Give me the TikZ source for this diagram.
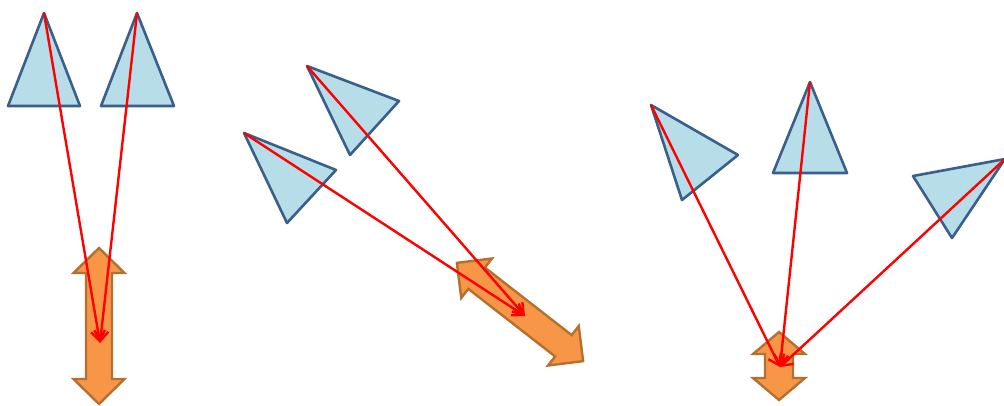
\documentclass[tikz,border=0pt]{standalone}
\usepackage{tikz}
\usetikzlibrary{arrows.meta}
\definecolor{prismfill}{HTML}{B7DDE8}
\definecolor{prismline}{HTML}{3A5F8B}
\definecolor{shaftfill}{HTML}{F79646}
\definecolor{shaftline}{HTML}{B5702F}

% double-headed block arrow: centre, angle, half length, head length, head half width, shaft half width
\newcommand{\twoway}[6]{%
  \begin{scope}[shift={#1}, rotate=#2]
    \draw[shaft] (-#3,0) -- (-#3+#4,#5) -- (-#3+#4,#6) -- (#3-#4,#6) -- (#3-#4,#5) -- (#3,0)
      -- (#3-#4,-#5) -- (#3-#4,-#6) -- (-#3+#4,-#6) -- (-#3+#4,-#5) -- cycle;
  \end{scope}}

\begin{document}
\begin{tikzpicture}[x=1pt, y=-1pt,
  prism/.style={fill=prismfill, draw=prismline, line width=2.6pt, line join=round},
  shaft/.style={fill=shaftfill, draw=shaftline, line width=2.4pt, line join=miter},
  ray/.style={red, line width=2.4pt, -{Straight Barb[length=10pt, width=14pt, line width=2.4pt]}}]
  \useasboundingbox (0,0) rectangle (1004,405);
  \clip (0,0) rectangle (1004,405);

  % Left group
  \coordinate (apexA) at (44,13);
  \coordinate (apexB) at (137,13);
  \draw[prism] (apexA) -- (80,106) -- (8,106) -- cycle;
  \draw[prism] (apexB) -- (174,106) -- (101,106) -- cycle;
  \twoway{(99,326)}{90}{78}{25}{25.5}{13}
  \coordinate (hitL) at (100,343);
  \draw[ray] (apexA) -- (hitL);
  \draw[ray] (apexB) -- (hitL);

  % Middle group
  \coordinate (apexC) at (307,66);
  \coordinate (apexD) at (244,133);
  \draw[prism] (apexC) -- (399,101) -- (350,155) -- cycle;
  \draw[prism] (apexD) -- (336,170) -- (287,223) -- cycle;
  \twoway{(520,312)}{-37.9}{80}{25}{25}{13.5}
  \coordinate (hitM) at (525,316);
  \draw[ray] (apexC) -- (hitM);
  \draw[ray] (apexD) -- (hitM);

  % Right group
  \coordinate (apexE) at (651,105);
  \coordinate (apexF) at (810,82);
  \coordinate (apexG) at (1005,159);
  \draw[prism] (apexE) -- (738,155) -- (682,200) -- cycle;
  \draw[prism] (apexF) -- (847,173) -- (773,173) -- cycle;
  \draw[prism] (apexG) -- (913,176) -- (952,238) -- cycle;
  \twoway{(779,366)}{90}{34}{22}{26}{14}
  \coordinate (hitR) at (780,367);
  \draw[ray] (apexE) -- (hitR);
  \draw[ray] (apexF) -- (hitR);
  \draw[ray] (apexG) -- (hitR);
\end{tikzpicture}
\end{document}
